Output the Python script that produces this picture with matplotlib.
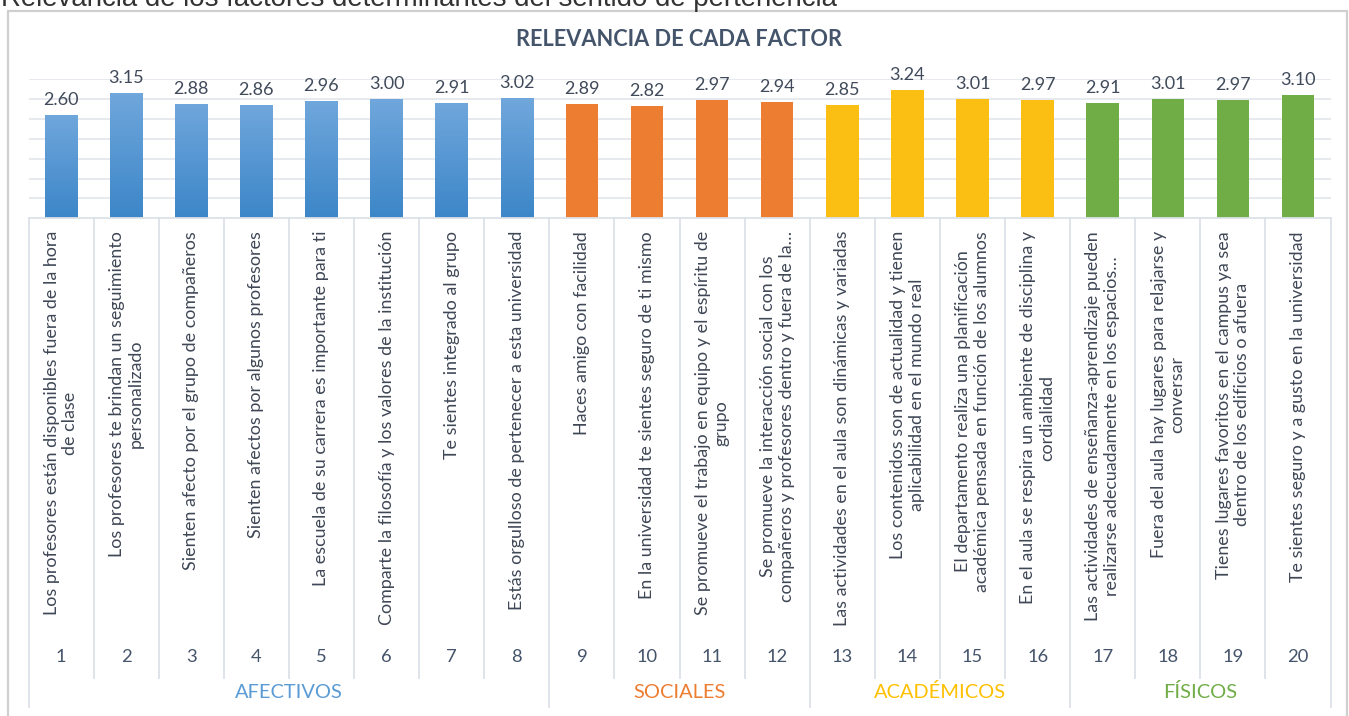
import matplotlib
matplotlib.use("Agg")
import matplotlib.pyplot as plt
import numpy as np
from matplotlib.transforms import blended_transform_factory
from matplotlib.patches import Rectangle
from matplotlib.colors import LinearSegmentedColormap

values = [2.60, 3.15, 2.88, 2.86, 2.96, 3.00, 2.91, 3.02, 2.89, 2.82,
          2.97, 2.94, 2.85, 3.24, 3.01, 2.97, 2.91, 3.01, 2.97, 3.10]
numbers = [str(i) for i in range(1, 21)]
labels = [
    "Los profesores están disponibles fuera de la hora\nde clase",
    "Los profesores te brindan un seguimiento\npersonalizado",
    "Sienten afecto por el grupo de compañeros",
    "Sienten afectos por algunos profesores",
    "La escuela de su carrera es importante para ti",
    "Comparte la filosofía y los valores de la institución",
    "Te sientes integrado al grupo",
    "Estás orgulloso de pertenecer a esta universidad",
    "Haces amigo con facilidad",
    "En la universidad te sientes seguro de ti mismo",
    "Se promueve el trabajo en equipo y el espíritu de\ngrupo",
    "Se promueve la interacción social con los\ncompañeros y profesores dentro y fuera de la…",
    "Las actividades en el aula son dinámicas y variadas",
    "Los contenidos son de actualidad y tienen\naplicabilidad en el mundo real",
    "El departamento realiza una planificación\nacadémica pensada en función de los alumnos",
    "En el aula se respira un ambiente de disciplina y\ncordialidad",
    "Las actividades de enseñanza-aprendizaje pueden\nrealizarse adecuadamente en los espacios…",
    "Fuera del aula hay lugares para relajarse y\nconversar",
    "Tienes lugares favoritos en el campus ya sea\ndentro de los edificios o afuera",
    "Te sientes seguro y a gusto en la universidad",
]
groups = ["AFECTIVOS", "SOCIALES", "ACADÉMICOS", "FÍSICOS"]
group_sizes = [8, 4, 4, 4]
group_colors = ["#5B9BD5", "#ED7D31", "#FFC000", "#70AD47"]
bar_colors = ["#ED7D31", "#FBBF14", "#70AD47"]

W, H = 1349, 716
fig = plt.figure(figsize=(W / 100, H / 100), dpi=100)
plt.rcParams['font.family'] = ['Lato', 'DejaVu Sans']

def fy(px):
    return 1 - px / H

def fx(px):
    return px / W

left, right = 28.5, 1330.6
top, bottom = 79.3, 218.3
ax = fig.add_axes([fx(left), fy(bottom), fx(right) - fx(left), fy(top) - fy(bottom)])
ax.set_xlim(-0.5, 19.5)
ax.set_ylim(0, 3.5)
for s in ax.spines.values():
    s.set_visible(False)
ax.set_xticks([])
ax.set_yticks(np.arange(0.5, 3.51, 0.5))
ax.tick_params(left=False, labelleft=False)
ax.yaxis.grid(True, color="#E4E7EC", linewidth=1.3)
ax.set_axisbelow(True)

x = np.arange(len(values))
cols = []
for g, n in enumerate(group_sizes):
    cols += [g] * n

blue_cmap = LinearSegmentedColormap.from_list("b", ["#3C86C8", "#70A7DC"])
grad = np.linspace(0, 1, 256).reshape(-1, 1)
bars = ax.bar(x, values, width=0.5, color="none", edgecolor="none", zorder=2)
for i, (b, v) in enumerate(zip(bars, values)):
    g = cols[i]
    if g == 0:
        im = ax.imshow(grad, cmap=blue_cmap, origin="lower", aspect="auto",
                       extent=[i - 0.25, i + 0.25, 0, v], zorder=2)
        im.set_clip_path(b)
    else:
        b.set_facecolor(bar_colors[g - 1])
    ax.annotate(f"{v:.2f}", (i, v), xytext=(0, 5), textcoords="offset points",
                ha="center", va="bottom", fontsize=13, color="#404A5A")
ax.set_xlim(-0.5, 19.5)
ax.set_ylim(0, 3.5)

tr = blended_transform_factory(ax.transData, fig.transFigure)
line_c = "#DCE1E8"
ax.plot([-0.5, 19.5], [fy(bottom), fy(bottom)], transform=tr, color=line_c, lw=1.3, clip_on=False)
bounds = np.cumsum([0] + group_sizes) - 0.5
for k in range(21):
    xb = k - 0.5
    yend = 707 if xb in bounds else 678
    ax.plot([xb, xb], [fy(bottom), fy(yend)], transform=tr, color=line_c, lw=1.3, clip_on=False)

for i in range(20):
    ax.text(i, fy(231), labels[i], transform=tr, rotation=90, ha="center", va="top",
            multialignment="center", fontsize=12.9, color="#3F4756", linespacing=1.2)
    ax.text(i, fy(657), numbers[i], transform=tr, ha="center", va="center",
            fontsize=13.2, color="#44546A")

start = 0
for g, n in enumerate(group_sizes):
    cx = start + (n - 1) / 2
    ax.text(cx, fy(692), groups[g], transform=tr, ha="center", va="center",
            fontsize=14.4, color=group_colors[g])
    start += n

fig.text(fx(679), fy(40), "RELEVANCIA DE CADA FACTOR", ha="center", va="center",
         fontsize=15.7, fontweight="bold", color="#44546A")

fig.patches.append(Rectangle((fx(8), fy(740)), fx(1347) - fx(8), fy(11) - fy(740),
                             transform=fig.transFigure, fill=False,
                             edgecolor="#CFCFCF", linewidth=1.6))

fig.text(fx(1), fy(6), "Relevancia de los factores determinantes del sentido de pertenencia",
         ha="left", va="baseline", fontsize=19.9, color="#333333",
         family=["Liberation Sans", "DejaVu Sans"])

fig.savefig("out.png", dpi=100)
